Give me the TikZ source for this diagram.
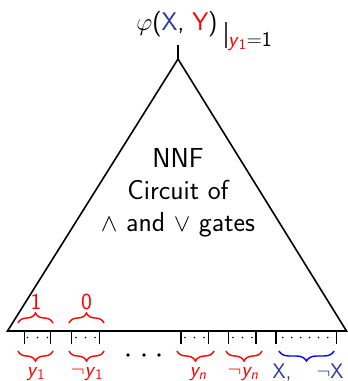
\documentclass[tikz,border=0pt]{standalone}
\usetikzlibrary{decorations.pathreplacing}
\definecolor{xblue}{RGB}{45,55,165}
\begin{document}
\begin{tikzpicture}[x=1pt,y=-1pt,
  edge/.style={line width=1.6pt, black, line join=miter},
  tickline/.style={line width=1.3pt, black},
  bup/.style={decorate, decoration={brace, amplitude=10pt}, line width=1.4pt},
  lab/.style={font=\sffamily\fontsize{21}{24}\selectfont, anchor=base, inner sep=0pt},
  dotm/.style={fill=black, draw=none},
  txt/.style={font=\sffamily\fontsize{27.5}{32}\selectfont, align=center, inner sep=0pt}]
\useasboundingbox (0,0) rectangle (348,381);
% triangle
\coordinate (A) at (178,59);
\coordinate (L) at (7.5,331);
\coordinate (R) at (346.5,331);
\coordinate (W) at (178,45);
\draw[edge] (L) -- (A) -- (R) -- cycle;
\draw[edge] (A) -- (W);
% title
\node[inner sep=0pt, font=\sffamily\fontsize{25.5}{28}\selectfont] (phi) at (177,24) {$\varphi$(\textcolor{xblue}{X}, \textcolor{red}{Y})};
\draw[line width=1.3pt, black!75] (226,22) -- (226,48);
\node[inner sep=0pt, anchor=base west, font=\sffamily\fontsize{21}{24}\selectfont] (eval) at (228,46) {\textcolor{red}{\textit{y}\textsubscript{1}}=1};
% center text
\node[txt] (nnf) at (178,193) {NNF\\Circuit of\\$\wedge$ and $\vee$ gates};
% boxes
\foreach \a/\b [count=\i] in {24.7/50.7, 71.7/99.3, 181/208.3, 228.7/256, 276/336.7} {
  \draw[tickline] (\a,331) -- (\a,344);
  \draw[tickline] (\b,331) -- (\b,344);
}
\foreach \x in {27.5,37.5,47.5, 76,85.5,95, 185,194.5,204, 233,242.5,252, 282.7,291.7,300.7,309.5,318.5,327.7}
  \fill[dotm] (\x,337.5) circle (0.9);
% middle dots
\foreach \x in {128,144,159}
  \fill[dotm] (\x,355) circle (1.8);
% upper braces
\draw[bup, red] (18,323) -- (53,323);
\draw[bup, red] (69,323) -- (104,323);
\node[lab, red, font=\sffamily\fontsize{23}{26}\selectfont] (one) at (36,309.5) {1};
\node[lab, red, font=\sffamily\fontsize{23}{26}\selectfont] (zero) at (86.5,309.5) {0};
% lower braces
\draw[bup, red] (53,351) -- (18,351);
\draw[bup, red] (104,351) -- (69,351);
\draw[bup, red] (214,351) -- (177,351);
\draw[bup, red] (262,351) -- (226,351);
\draw[bup, blue] (334,351) -- (279,351);
\node[lab, red] (ly1) at (36,376) {\textit{y}\textsubscript{1}};
\node[lab, red] (lny1) at (87,376) {$\neg$\textit{y}\textsubscript{1}};
\node[lab, red] (lyn) at (198,376) {\textit{y\textsubscript{n}}};
\node[lab, red] (lnyn) at (243,376) {$\neg$\textit{y\textsubscript{n}}};
\node[lab, xblue] (lx) at (282,378) {X,};
\node[lab, xblue] (lnx) at (330,378) {$\neg$X};
\end{tikzpicture}
\end{document}
